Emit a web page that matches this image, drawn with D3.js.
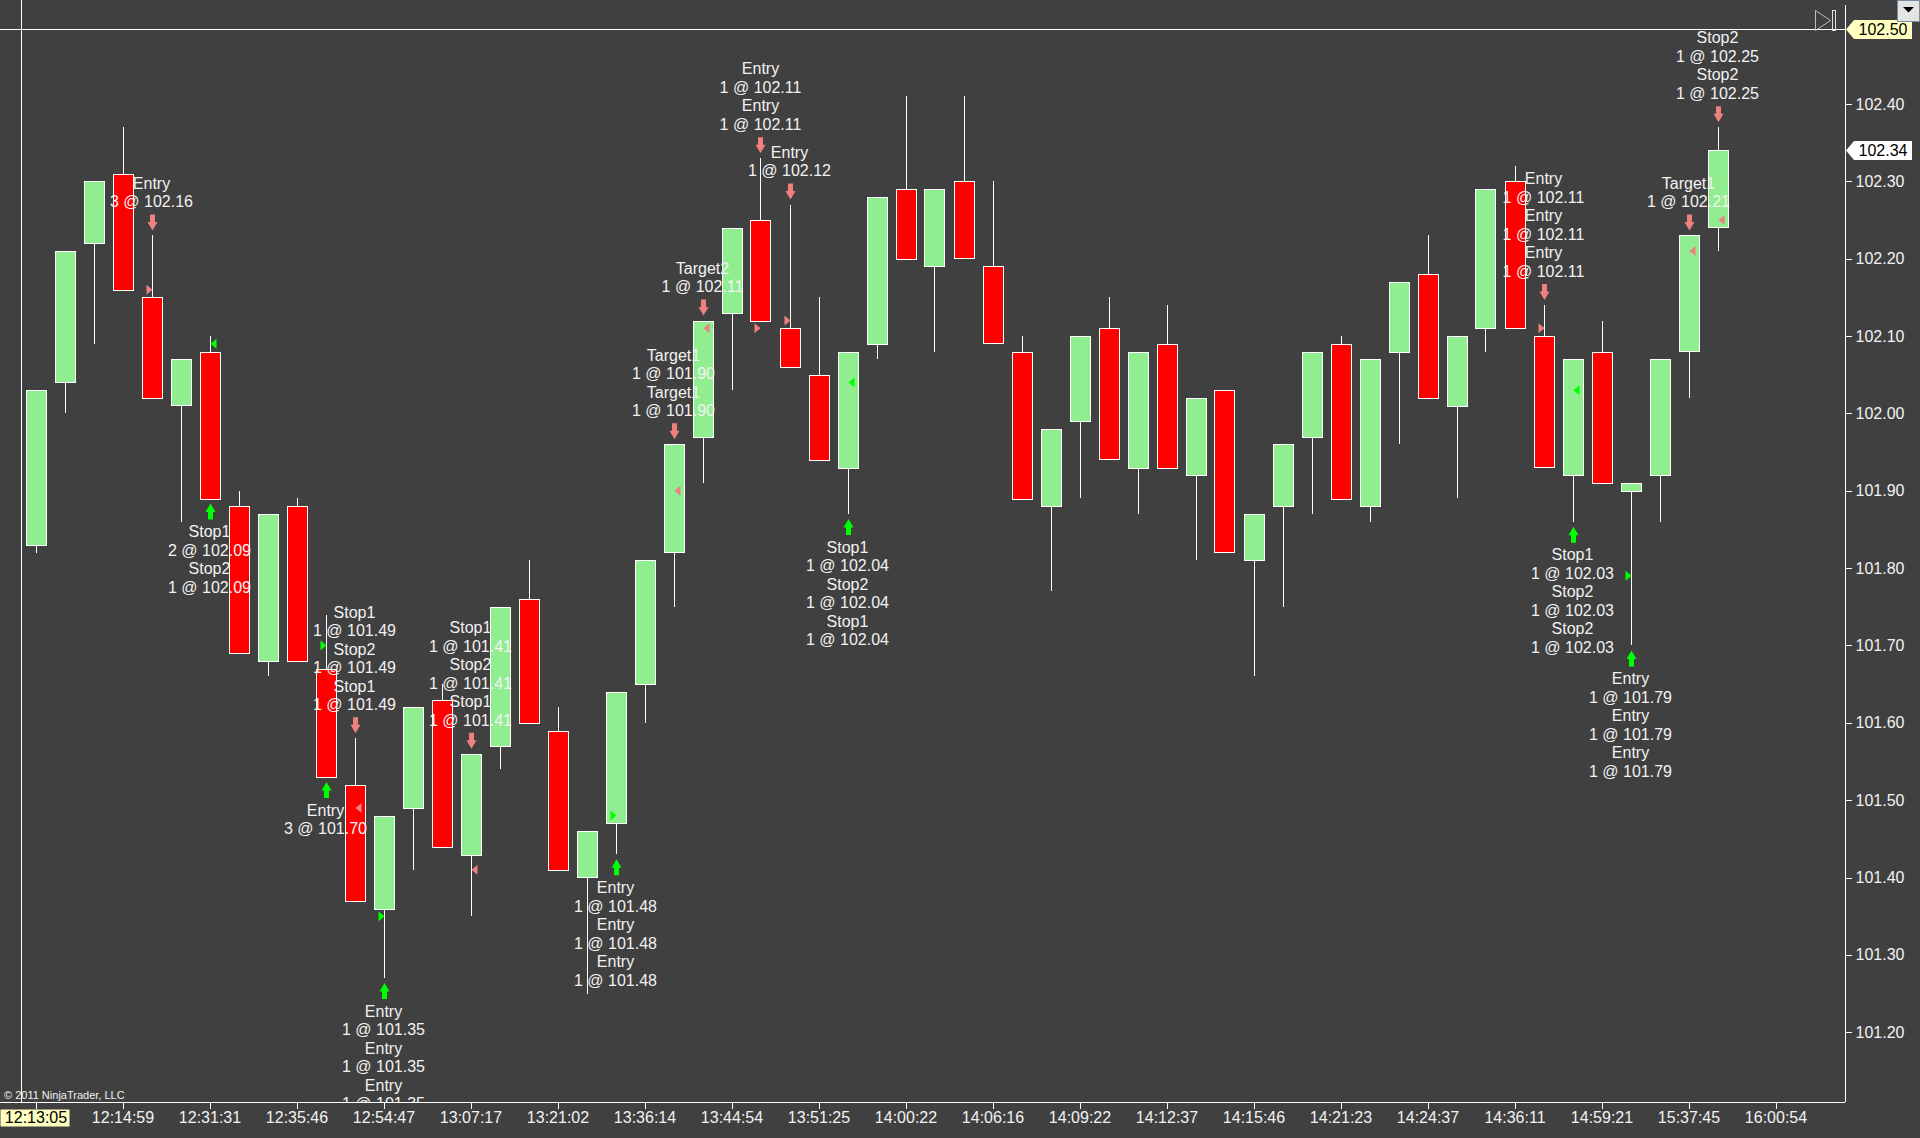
<!DOCTYPE html>
<html>
<head>
<meta charset="utf-8">
<script src="https://cdn.jsdelivr.net/npm/d3@7"></script>
<style>
  html, body { margin: 0; padding: 0; background: #404040; overflow: hidden; }
  svg { display: block; font-family: "Liberation Sans", Arial, sans-serif; }
</style>
</head>
<body>
<div id="chart"></div>
<script>
// range bars, one per index
const opens  = [101.83,102.04,102.22,102.31,102.15,102.01,102.08,101.88,101.68,101.88,
                101.67,101.52,101.36,101.49,101.63,101.43,101.57,101.76,101.59,101.40,
                101.47,101.65,101.82,101.97,102.13,102.25,102.11,102.05,101.93,102.09,
                102.29,102.19,102.30,102.19,102.08,101.88,101.99,102.11,101.93,102.09,
                101.92,102.03,101.81,101.88,101.97,102.09,101.88,102.08,102.18,102.01,
                102.11,102.30,102.10,101.92,102.08,101.90,101.92,102.08,102.24];
const highs  = [102.03,102.21,102.30,102.37,102.23,102.07,102.10,101.90,101.87,101.89,
                101.74,101.58,101.48,101.62,101.65,101.56,101.75,101.81,101.62,101.46,
                101.64,101.81,101.96,102.12,102.24,102.33,102.27,102.15,102.08,102.28,
                102.41,102.29,102.41,102.30,102.10,101.98,102.10,102.15,102.08,102.14,
                102.02,102.03,101.87,101.96,102.08,102.10,102.07,102.17,102.23,102.10,
                102.29,102.32,102.14,102.07,102.12,101.91,102.07,102.23,102.37];
const lows   = [101.82,102.00,102.09,102.16,102.02,101.86,101.89,101.69,101.66,101.68,
                101.53,101.37,101.27,101.41,101.44,101.35,101.54,101.60,101.41,101.25,
                101.43,101.60,101.75,101.91,102.03,102.12,102.06,101.94,101.87,102.07,
                102.20,102.08,102.20,102.09,101.89,101.77,101.89,101.94,101.87,101.93,
                101.81,101.82,101.66,101.75,101.87,101.89,101.86,101.96,102.02,101.89,
                102.08,102.11,101.93,101.86,101.91,101.70,101.86,102.02,102.21];
const closes = [102.03,102.21,102.30,102.16,102.02,102.07,101.89,101.69,101.87,101.68,
                101.53,101.37,101.48,101.62,101.44,101.56,101.75,101.60,101.41,101.46,
                101.64,101.81,101.96,102.12,102.24,102.12,102.06,101.94,102.08,102.28,
                102.20,102.29,102.20,102.09,101.89,101.98,102.10,101.94,102.08,101.93,
                102.02,101.82,101.87,101.96,102.08,101.89,102.07,102.17,102.02,102.10,
                102.29,102.11,101.93,102.07,101.91,101.91,102.07,102.23,102.34];

const timeTickBars = [0,3,6,9,12,15,18,21,24,27,30,33,36,39,42,45,48,51,54,57,60];
const timeTickLabels = ["12:13:05","12:14:59","12:31:31","12:35:46","12:54:47","13:07:17",
                        "13:21:02","13:36:14","13:44:54","13:51:25","14:00:22","14:06:16",
                        "14:09:22","14:12:37","14:15:46","14:21:23","14:24:37","14:36:11",
                        "14:59:21","15:37:45","16:00:54"];
const priceTicks = [102.40,102.30,102.20,102.10,102.00,101.90,101.80,101.70,
                    101.60,101.50,101.40,101.30,101.20];

// trade arrows with their text
const markerBars  = [4,6,10,11,12,15,20,22,23,25,26,28,52,53,55,57,58];
const markerSides = ["sell","buy","buy","sell","buy","sell","buy","sell","sell","sell",
                     "sell","buy","sell","buy","buy","sell","sell"];
const markerLines = [
  ["Entry","3 @ 102.16"],
  ["Stop1","2 @ 102.09","Stop2","1 @ 102.09"],
  ["Entry","3 @ 101.70"],
  ["Stop1","1 @ 101.49","Stop2","1 @ 101.49","Stop1","1 @ 101.49"],
  ["Entry","1 @ 101.35","Entry","1 @ 101.35","Entry","1 @ 101.35"],
  ["Stop1","1 @ 101.41","Stop2","1 @ 101.41","Stop1","1 @ 101.41"],
  ["Entry","1 @ 101.48","Entry","1 @ 101.48","Entry","1 @ 101.48"],
  ["Target1","1 @ 101.90","Target1","1 @ 101.90"],
  ["Target2","1 @ 102.11"],
  ["Entry","1 @ 102.11","Entry","1 @ 102.11"],
  ["Entry","1 @ 102.12"],
  ["Stop1","1 @ 102.04","Stop2","1 @ 102.04","Stop1","1 @ 102.04"],
  ["Entry","1 @ 102.11","Entry","1 @ 102.11","Entry","1 @ 102.11"],
  ["Stop1","1 @ 102.03","Stop2","1 @ 102.03","Stop2","1 @ 102.03"],
  ["Entry","1 @ 101.79","Entry","1 @ 101.79","Entry","1 @ 101.79"],
  ["Target1","1 @ 102.21"],
  ["Stop2","1 @ 102.25","Stop2","1 @ 102.25"]
];

// execution triangles
const execBars   = [4,6,10,11,12,15,20,22,23,25,26,28,52,53,55,57,58];
const execPrices = [102.16,102.09,101.70,101.49,101.35,101.41,101.48,101.90,102.11,
                    102.11,102.12,102.04,102.11,102.03,101.79,102.21,102.25];
const execKinds  = ["entry","exit","entry","exit","entry","exit","entry","exit","exit",
                    "entry","entry","exit","entry","exit","entry","exit","exit"];
const execSides  = ["sell","buy","buy","sell","buy","sell","buy","sell","sell",
                    "sell","sell","buy","sell","buy","buy","sell","sell"];

const crosshairPrice = 102.497;
const crosshairTime = "12:13:05";

const W = 1920, H = 1138;
const plotRight = 1845, plotBottom = 1102;
const bg = "#404040", upColor = "#90ee90", downColor = "#ff0000";
const sellColor = "#f08080", buyColor = "#00ff00", textColor = "#f2f2f2";

const svg = d3.select("#chart").append("svg")
  .attr("width", W).attr("height", H);

svg.append("rect").attr("width", W).attr("height", H).attr("fill", bg);

const x = d3.scaleLinear().domain([0, 58]).range([35.5, 1717.5]);
const y = d3.scaleLinear().domain([101.20, 102.40]).range([1032.2, 104]);

svg.append("defs").append("clipPath").attr("id", "plotClip")
  .append("rect").attr("x", 0).attr("y", 0).attr("width", plotRight).attr("height", plotBottom);

const plot = svg.append("g").attr("clip-path", "url(#plotClip)");

const bars = d3.range(opens.length).map(i => ({
  i, o: opens[i], h: highs[i], l: lows[i], c: closes[i]
}));

// wicks
plot.append("g").selectAll("line").data(bars).join("line")
  .attr("x1", d => Math.round(x(d.i)) + 0.5)
  .attr("x2", d => Math.round(x(d.i)) + 0.5)
  .attr("y1", d => y(d.h))
  .attr("y2", d => y(d.l))
  .attr("stroke", "#ffffff")
  .attr("stroke-width", 1)
  .attr("shape-rendering", "crispEdges");

// bodies
plot.append("g").selectAll("rect").data(bars).join("rect")
  .attr("x", d => Math.round(x(d.i)) - 9.5)
  .attr("width", 20)
  .attr("y", d => Math.round(y(Math.max(d.o, d.c))) + 0.5)
  .attr("height", d => Math.max(1, Math.round(Math.abs(y(d.o) - y(d.c)))))
  .attr("fill", d => d.c >= d.o ? upColor : downColor)
  .attr("stroke", "#ffffff")
  .attr("stroke-width", 1)
  .attr("shape-rendering", "crispEdges");

// execution triangles
const execs = execBars.map((b, k) => ({ b, p: execPrices[k], kind: execKinds[k], side: execSides[k] }));
plot.append("g").selectAll("path").data(execs).join("path")
  .attr("d", d => {
    const cx = Math.round(x(d.b)) + 0.5, cy = y(d.p);
    return d.kind === "entry"
      ? `M${cx - 6},${cy - 5}L${cx},${cy}L${cx - 6},${cy + 5}Z`
      : `M${cx + 6},${cy - 5}L${cx},${cy}L${cx + 6},${cy + 5}Z`;
  })
  .attr("fill", d => d.side === "sell" ? sellColor : buyColor);

// arrows and labels
const markers = markerBars.map((b, k) => ({ b, side: markerSides[k], lines: markerLines[k] }));
const arrowY = d => d.side === "sell" ? y(highs[d.b]) - 13 : y(lows[d.b]) + 13;

plot.append("g").selectAll("path").data(markers).join("path")
  .attr("d", d => {
    const cx = Math.round(x(d.b)) + 0.5, cy = arrowY(d);
    const s = d.side === "sell" ? 1 : -1;
    return `M${cx - 2.5},${cy - 8 * s}L${cx + 2.5},${cy - 8 * s}L${cx + 2.5},${cy - 0.5 * s}` +
           `L${cx + 5},${cy - 0.5 * s}L${cx},${cy + 8 * s}L${cx - 5},${cy - 0.5 * s}L${cx - 2.5},${cy - 0.5 * s}Z`;
  })
  .attr("fill", d => d.side === "sell" ? sellColor : buyColor);

const labelGroups = plot.append("g").selectAll("g").data(markers).join("g");
labelGroups.each(function(d) {
  const g = d3.select(this);
  const cx = x(d.b), ay = arrowY(d), n = d.lines.length;
  d.lines.forEach((t, k) => {
    const cy = d.side === "sell" ? ay - 21 - (n - 1 - k) * 18.5 : ay + 20 + k * 18.5;
    g.append("text")
      .attr("x", cx).attr("y", cy).attr("dy", "0.36em")
      .attr("text-anchor", "middle")
      .attr("fill", textColor)
      .attr("font-size", 16)
      .text(t);
  });
});

// copyright
plot.append("text")
  .attr("x", 4).attr("y", 1099)
  .attr("fill", textColor).attr("font-size", 11)
  .text("\u00a9 2011 NinjaTrader, LLC");

// crosshair
svg.append("line")
  .attr("x1", 0).attr("x2", plotRight)
  .attr("y1", Math.round(y(crosshairPrice)) + 0.5).attr("y2", Math.round(y(crosshairPrice)) + 0.5)
  .attr("stroke", "#ffffff").attr("shape-rendering", "crispEdges");
svg.append("line")
  .attr("x1", Math.round(x(-0.5)) + 0.5).attr("x2", Math.round(x(-0.5)) + 0.5)
  .attr("y1", 0).attr("y2", plotBottom)
  .attr("stroke", "#ffffff").attr("shape-rendering", "crispEdges");

// price axis
const yAxis = svg.append("g")
  .attr("transform", `translate(${plotRight + 0.5},0)`)
  .call(d3.axisRight(y).tickValues(priceTicks).tickSize(6).tickPadding(4).tickFormat(d3.format(".2f")));
yAxis.select(".domain").remove();
yAxis.selectAll(".tick line").attr("stroke", "#ffffff").attr("shape-rendering", "crispEdges");
yAxis.selectAll(".tick text").attr("fill", textColor).attr("font-size", 16)
  .attr("font-family", "'Liberation Sans', Arial, sans-serif");

svg.append("line")
  .attr("x1", plotRight + 0.5).attr("x2", plotRight + 0.5)
  .attr("y1", 5).attr("y2", plotBottom)
  .attr("stroke", "#ffffff").attr("shape-rendering", "crispEdges");

// time axis
const xAxis = svg.append("g")
  .attr("transform", `translate(0,${plotBottom + 0.5})`)
  .call(d3.axisBottom(x).tickValues(timeTickBars).tickSize(6).tickPadding(3)
    .tickFormat((d, k) => timeTickLabels[k]));
xAxis.select(".domain").remove();
xAxis.selectAll(".tick line").attr("stroke", "#ffffff").attr("shape-rendering", "crispEdges");
xAxis.selectAll(".tick text").attr("fill", textColor).attr("font-size", 16)
  .attr("font-family", "'Liberation Sans', Arial, sans-serif");

svg.append("line")
  .attr("x1", 0).attr("x2", plotRight)
  .attr("y1", plotBottom + 0.5).attr("y2", plotBottom + 0.5)
  .attr("stroke", "#ffffff").attr("shape-rendering", "crispEdges");

// crosshair time label
xAxis.selectAll(".tick").filter(d => d === 0).each(function() {
  const t = d3.select(this);
  t.select("text").attr("fill", "#000000").text(crosshairTime);
  t.insert("rect", "text")
    .attr("x", -x(0)).attr("y", 7).attr("width", 69).attr("height", 17)
    .attr("fill", "#ffffc0");
});

// price markers on the axis
function priceFlag(price, fill) {
  const cy = Math.round(y(price)) + 0.5, x0 = plotRight + 1;
  svg.append("path")
    .attr("d", `M${x0},${cy}L${x0 + 8},${cy - 9.5}L${x0 + 66},${cy - 9.5}L${x0 + 66},${cy + 9.5}L${x0 + 8},${cy + 9.5}Z`)
    .attr("fill", fill);
  svg.append("text")
    .attr("x", x0 + 37).attr("y", cy).attr("dy", "0.36em")
    .attr("text-anchor", "middle").attr("fill", "#000000").attr("font-size", 16)
    .text(d3.format(".2f")(price));
}
priceFlag(closes[closes.length - 1], "#ffffff");
priceFlag(crosshairPrice, "#ffffc0");

// scroll-to-end glyph and menu button
svg.append("path")
  .attr("d", "M1815.5,10.5L1830.5,20.5L1815.5,30.5Z")
  .attr("fill", "none").attr("stroke", "#bdbdbd");
svg.append("rect")
  .attr("x", 1832.5).attr("y", 10.5).attr("width", 3).attr("height", 20)
  .attr("fill", "none").attr("stroke", "#e0e0e0");
svg.append("rect")
  .attr("x", 1897.5).attr("y", 0.5).attr("width", 22).attr("height", 21)
  .attr("fill", "#e4e4e4").attr("stroke", "#7a8ca0");
svg.append("path")
  .attr("d", "M1903,7L1914,7L1908.5,12.5Z")
  .attr("fill", "#000000");
</script>
</body>
</html>
